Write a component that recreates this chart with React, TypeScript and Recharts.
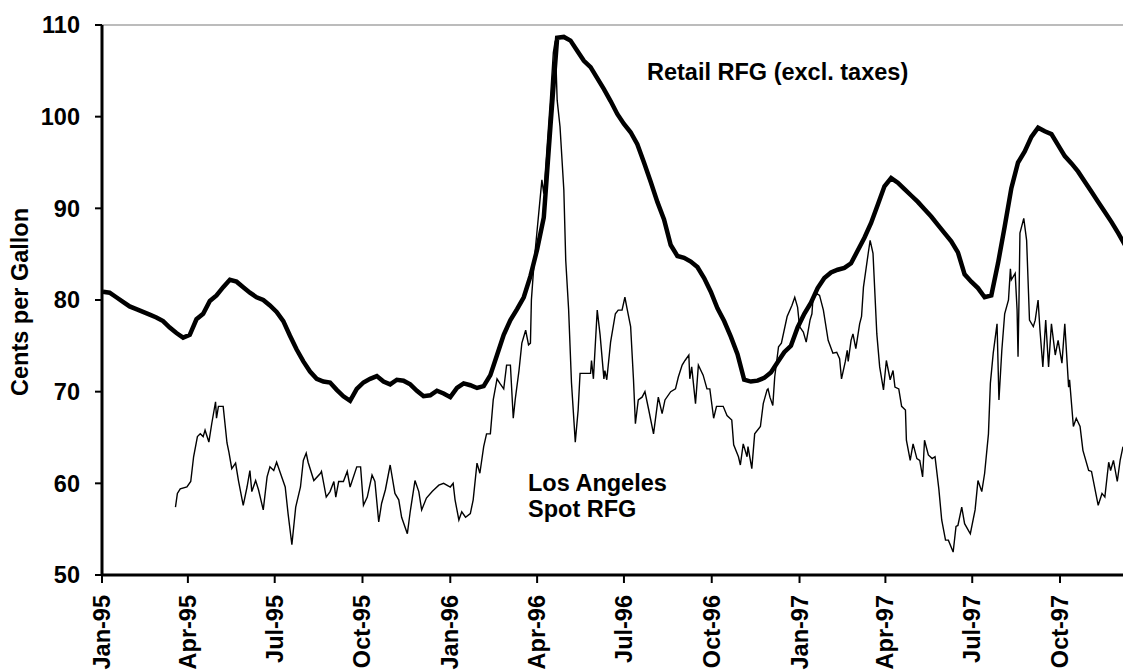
import React from "react";
import { LineChart, Line, XAxis, YAxis, ReferenceLine, Customized } from "recharts";

// days counted from 1 Jan 1995
const quarterDays = [0, 90, 181, 273, 365, 456, 547, 639, 731, 821, 912, 1004];
const quarterLabels = [
  "Jan-95", "Apr-95", "Jul-95", "Oct-95",
  "Jan-96", "Apr-96", "Jul-96", "Oct-96",
  "Jan-97", "Apr-97", "Jul-97", "Oct-97",
];
const yTicks = [50, 60, 70, 80, 90, 100, 110];

// weekly retail RFG price excl. taxes, first week 2 Jan 1995
const retailWeekly = [
  80.9, 80.8, 80.3, 79.8, 79.3, 79.0, 78.7, 78.4, 78.1, 77.7, 77.0, 76.4, 75.9, 76.2, 77.9, 78.5,
  79.9, 80.5, 81.4, 82.2, 82.0, 81.4, 80.8, 80.3, 80.0, 79.4, 78.7, 77.7, 76.1, 74.6, 73.3, 72.2,
  71.4, 71.1, 71.0, 70.2, 69.5, 69.0, 70.3, 71.0, 71.4, 71.7, 71.1, 70.8, 71.3, 71.2, 70.8, 70.1,
  69.5, 69.6, 70.1, 69.8, 69.4, 70.4, 70.9, 70.7, 70.4, 70.6, 71.8, 74.0, 76.2, 77.8, 79.0, 80.3,
  82.6, 85.5, 89.0, 99.0, 108.6, 108.7, 108.3, 107.2, 106.1, 105.4, 104.2, 103.0, 101.7, 100.3, 99.2, 98.3,
  97.0, 95.0, 92.9, 90.7, 88.8, 86.0, 84.8, 84.6, 84.2, 83.6, 82.4, 80.9, 79.1, 77.7, 76.0, 74.1,
  71.3, 71.1, 71.2, 71.5, 72.1, 73.2, 74.3, 75.0, 77.0, 78.5, 79.7, 81.3, 82.4, 83.0, 83.3, 83.5,
  84.0, 85.4, 86.8, 88.4, 90.4, 92.4, 93.3, 92.8, 92.1, 91.4, 90.7, 89.9, 89.1, 88.2, 87.3, 86.4,
  85.2, 82.8, 82.0, 81.3, 80.3, 80.5, 84.0, 88.0, 92.2, 95.0, 96.2, 97.8, 98.8, 98.4, 98.1, 96.9,
  95.7, 94.9, 94.0, 92.9, 91.8, 90.7, 89.6, 88.5, 87.3, 86.0,
];

// Los Angeles spot RFG: [day, cents per gallon]
const spotPoints: [number, number][] = [
  [77, 57.4], [79, 58.9], [82, 59.4], [89, 59.6], [93, 60.2], [96, 62.9], [100, 65.1], [103, 65.4],
  [106, 65.1], [108, 65.8], [112, 64.5], [115, 66.5], [119, 68.9], [120, 67.1], [122, 68.4], [127, 68.4],
  [131, 64.4], [133, 63.4], [136, 61.6], [140, 62.2], [143, 60.3], [148, 57.6], [152, 59.6], [155, 61.4],
  [157, 59.1], [161, 60.3], [164, 59.3], [169, 57.1], [173, 60.7], [176, 61.8], [180, 61.4], [183, 62.3],
  [187, 61.1], [192, 59.6], [195, 56.7], [199, 53.3], [203, 57.4], [208, 59.6], [211, 62.5], [214, 63.3],
  [216, 62.3], [222, 60.3], [229, 61.1], [230, 61.3], [235, 58.5], [239, 59.1], [243, 60.2], [245, 58.5],
  [248, 60.2], [253, 60.2], [257, 61.3], [260, 59.6], [267, 61.8], [271, 61.8], [274, 57.6], [278, 58.5],
  [283, 60.9], [286, 60.2], [290, 55.8], [293, 57.8], [297, 59.3], [302, 62.0], [307, 58.9], [311, 58.2],
  [314, 56.3], [320, 54.5], [323, 56.9], [328, 60.3], [332, 59.1], [335, 57.1], [340, 58.4], [346, 59.1],
  [349, 59.4], [353, 59.8], [358, 60.0], [365, 59.6], [368, 60.0], [370, 58.2], [374, 56.0], [377, 56.9],
  [381, 56.3], [386, 56.7], [389, 58.2], [393, 62.2], [396, 61.1], [400, 64.0], [403, 65.4], [407, 65.4],
  [410, 69.1], [414, 71.4], [417, 70.9], [421, 70.3], [424, 72.9], [428, 72.9], [431, 67.1], [433, 69.1],
  [437, 72.3], [440, 75.3], [444, 76.7], [447, 75.1], [449, 75.3], [450, 80.0], [452, 82.9], [454, 85.4],
  [461, 93.1], [463, 91.6], [466, 96.0], [470, 102.0], [473, 107.0], [475, 108.3], [477, 101.8], [480, 98.9],
  [484, 92.0], [486, 84.3], [489, 79.0], [492, 71.0], [496, 64.5], [499, 68.0], [501, 72.0], [506, 72.0],
  [512, 72.0], [513, 73.4], [515, 71.4], [519, 78.9], [522, 76.2], [526, 71.4], [527, 72.3], [529, 71.3],
  [533, 75.4], [538, 78.5], [541, 78.9], [545, 78.9], [548, 80.3], [550, 79.2], [554, 77.1], [557, 71.3],
  [559, 66.5], [562, 69.1], [566, 69.4], [569, 70.0], [573, 68.0], [578, 65.4], [583, 69.4], [587, 67.6],
  [590, 69.1], [596, 70.0], [601, 70.3], [604, 71.6], [608, 72.9], [611, 73.4], [615, 74.0], [616, 71.4],
  [618, 72.7], [622, 68.7], [625, 72.9], [630, 71.8], [634, 70.3], [637, 70.3], [641, 67.1], [644, 68.4],
  [651, 68.4], [655, 67.4], [660, 66.9], [662, 64.2], [667, 62.9], [669, 62.0], [672, 64.3], [676, 62.9],
  [677, 64.0], [681, 61.6], [684, 65.4], [690, 66.2], [693, 68.7], [697, 70.2], [698, 70.3], [700, 69.4],
  [703, 68.5], [705, 71.6], [709, 74.9], [712, 75.3], [718, 78.2], [723, 79.4], [726, 80.3], [729, 79.2],
  [731, 77.1], [735, 76.5], [738, 75.4], [742, 77.8], [744, 78.5], [745, 80.0], [749, 80.7], [752, 80.5],
  [756, 78.9], [761, 75.6], [766, 74.2], [770, 74.3], [773, 73.6], [775, 71.4], [779, 73.3], [781, 74.5],
  [782, 73.3], [785, 75.6], [787, 76.3], [790, 74.7], [794, 77.4], [796, 78.2], [798, 81.4], [803, 85.1],
  [805, 86.5], [808, 85.1], [812, 76.3], [815, 72.7], [819, 70.2], [822, 73.4], [826, 71.3], [829, 72.3],
  [831, 70.5], [835, 70.3], [838, 68.4], [842, 68.0], [843, 64.7], [847, 62.5], [850, 64.3], [854, 62.7],
  [857, 62.5], [860, 60.7], [862, 64.7], [866, 63.1], [870, 62.7], [873, 62.9], [877, 59.4], [880, 56.0],
  [884, 53.8], [887, 53.8], [892, 52.5], [895, 55.3], [897, 55.4], [901, 57.4], [904, 55.6], [910, 54.5],
  [915, 57.1], [918, 60.3], [922, 59.1], [925, 61.1], [929, 65.4], [931, 70.9], [934, 74.2], [938, 77.4],
  [940, 69.1], [943, 74.5], [946, 78.5], [950, 80.0], [952, 83.4], [953, 82.2], [957, 82.9], [959, 78.9],
  [960, 73.8], [961, 80.0], [962, 87.3], [966, 88.9], [969, 86.5], [971, 80.7], [972, 77.8], [976, 77.1],
  [978, 77.8], [981, 80.0], [983, 76.7], [986, 72.7], [989, 77.8], [992, 72.7], [995, 77.4], [999, 74.0],
  [1002, 75.6], [1006, 73.1], [1009, 77.4], [1013, 70.5], [1014, 71.3], [1018, 66.2], [1021, 67.1], [1025, 66.2],
  [1028, 63.6], [1034, 61.4], [1037, 61.3], [1044, 57.6], [1048, 58.9], [1051, 58.5], [1055, 62.3], [1057, 61.4],
  [1060, 62.5], [1064, 60.2], [1067, 62.5], [1070, 64.0],
];

const FONT = '"Liberation Sans", Arial, sans-serif';
const FS = 23.5;

const retailData = retailWeekly.map((v, i) => ({ day: 1 + 7 * i, retail: v }));
const spotData = spotPoints.map(([d, v]) => ({ day: d, spot: v }));

const XTick = (props: any) => {
  const { x, y, payload } = props;
  const idx = quarterDays.indexOf(payload.value);
  return (
    <text
      transform={`translate(${x + 8},${y}) rotate(-90)`}
      textAnchor="end"
      fontFamily={FONT}
      fontWeight="bold"
      fontSize={FS}
      fill="#000"
    >
      {quarterLabels[idx]}
    </text>
  );
};

const Notes = () => (
  <g fontFamily={FONT} fontWeight="bold" fontSize={FS} fill="#000">
    <text x={647} y={80}>Retail RFG (excl. taxes)</text>
    <text x={528} y={491}>Los Angeles</text>
    <text x={528} y={517}>Spot RFG</text>
    <text transform="translate(28,302) rotate(-90)" textAnchor="middle">
      Cents per Gallon
    </text>
  </g>
);

export default function App() {
  return (
    <div style={{ position: "absolute", left: 0, top: 0, background: "#fff" }}>
      <LineChart width={1123} height={672} margin={{ top: 25, right: 0, left: 0, bottom: 0 }}>
        <XAxis
          type="number"
          dataKey="day"
          domain={[0, 1070]}
          allowDataOverflow
          ticks={quarterDays}
          interval={0}
          height={97}
          tickSize={8}
          tickMargin={12}
          tick={<XTick />}
          axisLine={{ stroke: "#000", strokeWidth: 3 }}
          tickLine={{ stroke: "#000", strokeWidth: 2 }}
        />
        <YAxis
          type="number"
          domain={[50, 110]}
          ticks={yTicks}
          interval={0}
          width={102}
          tickSize={7}
          tickMargin={15}
          tick={{ fontFamily: FONT, fontWeight: "bold", fontSize: FS, fill: "#000" }}
          axisLine={{ stroke: "#000", strokeWidth: 3 }}
          tickLine={{ stroke: "#000", strokeWidth: 2 }}
        />
        <ReferenceLine y={110} stroke="#a6a6a6" strokeWidth={1.5} />
        <Line
          data={spotData}
          dataKey="spot"
          type="linear"
          stroke="#000"
          strokeWidth={1.4}
          dot={false}
          isAnimationActive={false}
        />
        <Line
          data={retailData}
          dataKey="retail"
          type="linear"
          stroke="#000"
          strokeWidth={4.5}
          dot={false}
          isAnimationActive={false}
        />
        <Customized component={Notes} />
      </LineChart>
    </div>
  );
}
